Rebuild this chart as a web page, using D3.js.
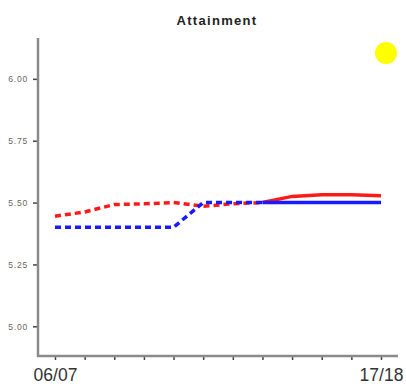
<!DOCTYPE html>
<html><head><meta charset="utf-8">
<script src="https://cdn.jsdelivr.net/npm/d3@7/dist/d3.min.js"></script>
<style>body{margin:0;background:#fff;}svg{display:block;font-family:"Liberation Sans",Arial,sans-serif;}</style>
</head><body>
<svg id="c" width="406" height="386"></svg>
<script>
const years = ["06/07","07/08","08/09","09/10","10/11","11/12","12/13","13/14","14/15","15/16","16/17","17/18"];
const redValues  = [5.445,5.462,5.492,5.495,5.500,5.485,5.495,5.500,5.525,5.532,5.532,5.528];
const blueValues = [5.40,5.40,5.40,5.40,5.40,5.50,5.50,5.50,5.50,5.50,5.50,5.50];
const yTicks = [5.00,5.25,5.50,5.75,6.00];
const xLabels = ["06/07","17/18"];
const solidFrom = 7;
const title = "Attainment";

const svg = d3.select("#c");
const x = d3.scalePoint().domain(years).range([55,381]);
const y = d3.scaleLinear().domain([4.88,6.165]).range([356,38]);

// title
svg.append("text").attr("x",217).attr("y",25).attr("text-anchor","middle")
  .attr("font-weight","bold").attr("font-size",13).attr("letter-spacing",1.3)
  .attr("fill","#222").text(title);

// y axis
const ya = svg.append("g").attr("transform","translate(38,0)")
  .call(d3.axisLeft(y).tickValues(yTicks).tickFormat(d3.format(".2f")).tickSize(5).tickPadding(5));
ya.select(".domain").remove();
ya.selectAll(".tick line").attr("stroke","#444").attr("stroke-width",1.5);
ya.selectAll(".tick text").attr("font-size",8.5).attr("letter-spacing",0.8).attr("fill","#666")
  .attr("font-family","Liberation Sans, Arial, sans-serif");
svg.append("line").attr("x1",38).attr("x2",38).attr("y1",y.range()[1]).attr("y2",357)
  .attr("stroke","#8a8a8a").attr("stroke-width",2.5);

// x axis
const xa = svg.append("g").attr("transform","translate(0,356)")
  .call(d3.axisBottom(x).tickSize(4).tickPadding(9).tickFormat(d => xLabels.includes(d) ? d : ""));
xa.select(".domain").remove();
xa.selectAll(".tick line").attr("stroke","#444").attr("stroke-width",1.5);
xa.selectAll(".tick text").attr("font-size",17.5).attr("fill","#333")
  .attr("font-family","Liberation Sans, Arial, sans-serif");
svg.append("line").attr("x1",37).attr("x2",398).attr("y1",356).attr("y2",356)
  .attr("stroke","#8a8a8a").attr("stroke-width",2.5);

// lines
const line = d3.line().x(d => x(d[0])).y(d => y(d[1]));
function drawSeries(vals, color){
  const pts = years.map((yr,i)=>[yr, vals[i]]);
  svg.append("path").attr("d", line(pts.slice(0, solidFrom+1))).attr("fill","none")
    .attr("stroke",color).attr("stroke-width",3.5).attr("stroke-dasharray","6,4");
  svg.append("path").attr("d", line(pts.slice(solidFrom))).attr("fill","none")
    .attr("stroke",color).attr("stroke-width",3.5);
}
drawSeries(redValues, "#ff1a1a");
drawSeries(blueValues, "#1a1aff");

// yellow marker
svg.append("circle").attr("cx",386).attr("cy",53).attr("r",11).attr("fill","#ffff00");
</script>
</body></html>
